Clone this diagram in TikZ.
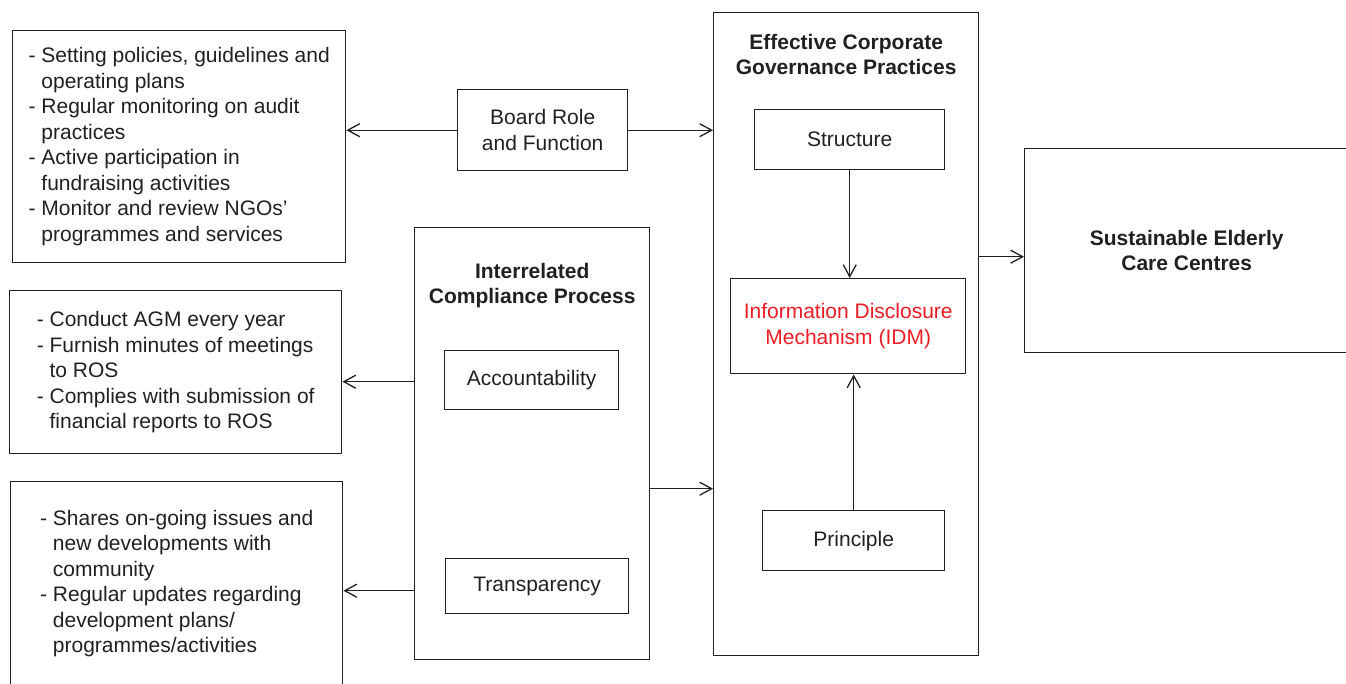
\documentclass[tikz,border=0pt]{standalone}
\usepackage{fontspec}
\setmainfont{Liberation Sans}
\usetikzlibrary{arrows.meta,calc}
\definecolor{ink}{HTML}{231F20}
\definecolor{idmred}{HTML}{ED1C24}
\newcommand\cind{\hphantom{-~}}
\tikzset{
  box/.style={draw=ink, line width=1.4pt, inner sep=0pt, anchor=north west, text=ink,
    font=\fontsize{21}{25.5}\selectfont, align=center},
  listbox/.style={box, align=left},
  boxtitle/.style={text=ink, font=\fontsize{21}{25.5}\selectfont\bfseries, align=center, inner sep=0pt, anchor=north},
  arr/.style={draw=ink, line width=1.4pt, -{Straight Barb[length=12pt,width=13pt,line width=1.3pt]}},
}
\begin{document}
\begin{tikzpicture}[x=1pt,y=-1pt]
\useasboundingbox (0,0) rectangle (1346,683);
% left list boxes
\node[listbox, minimum width=333, minimum height=232] (boxA) at (12,30)
  {- Setting policies, guidelines and\\ \cind operating plans\\- Regular monitoring on audit\\ \cind practices\\- Active participation in\\ \cind fundraising activities\\- Monitor and review NGOs'\\ \cind programmes and services};
\node[listbox, minimum width=332, minimum height=163] (boxB) at (9,290)
  {- Conduct AGM every year\\- Furnish minutes of meetings\\ \cind to ROS\\- Complies with submission of\\ \cind financial reports to ROS};
\node[listbox, minimum width=332, minimum height=204] (boxC) at (10,481)
  {- Shares on-going issues and\\ \cind new developments with\\ \cind community\\- Regular updates regarding\\ \cind development plans/\\ \cind programmes/activities};
% board role
\node[box, minimum width=170, minimum height=81] (board) at (457,89) {Board Role\\and Function};
% interrelated compliance process
\node[box, minimum width=235, minimum height=432] (icp) at (414,227) {};
\node[boxtitle] (icpt) at ($(icp.north)+(0,36)$) {Interrelated\\Compliance Process};
\node[box, minimum width=174, minimum height=59] (acc) at (444,350) {Accountability};
\node[box, minimum width=183, minimum height=55] (trans) at (445,558) {Transparency};
% effective corporate governance practices
\node[box, minimum width=265, minimum height=643] (ecgp) at (713,12) {};
\node[boxtitle] (ecgpt) at ($(ecgp.north)+(0,22)$) {Effective Corporate\\Governance Practices};
\node[box, minimum width=190, minimum height=60] (structure) at (754,109) {Structure};
\node[box, minimum width=235, minimum height=95, text=idmred] (idm) at (730,278) {Information Disclosure\\Mechanism (IDM)};
\node[box, minimum width=182, minimum height=60] (principle) at (762,510) {Principle};
% outcome
\node[box, minimum width=324, minimum height=204, font=\fontsize{21}{25.5}\selectfont\bfseries] (sust) at (1024,148) {Sustainable Elderly\\Care Centres};
% connectors
\draw[arr] (board.west) -- (board.west -| boxA.east);
\draw[arr] (board.east) -- (board.east -| ecgp.west);
\draw[arr] (structure.south) -- (structure.south |- idm.north);
\draw[arr] (principle.north) -- (principle.north |- idm.south);
\coordinate (sa) at ($(sust.west)+(0,6)$);
\draw[arr] (sa -| ecgp.east) -- (sa);
\coordinate (ia) at ($(icp.east)+(0,45)$);
\draw[arr] (ia) -- (ia -| ecgp.west);
\coordinate (aa) at ($(acc.west)+(0,1.5)$);
\draw[arr] (aa -| icp.west) -- (aa -| boxB.east);
\coordinate (ta) at ($(trans.west)+(0,4.5)$);
\draw[arr] (ta -| icp.west) -- (ta -| boxC.east);
\end{tikzpicture}
\end{document}
